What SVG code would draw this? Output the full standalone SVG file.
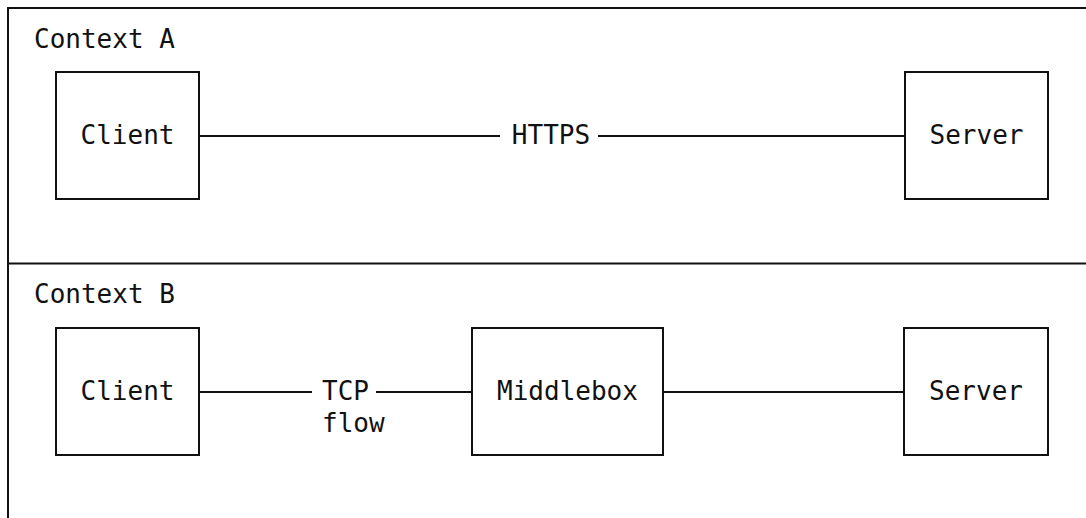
<svg xmlns="http://www.w3.org/2000/svg" width="1086" height="518" viewBox="0 0 1086 518">
<style>
text{font-family:"DejaVu Sans Mono","Liberation Mono",monospace;font-size:26px;fill:#111}
.box{fill:#fff;stroke:#111;stroke-width:2}
.ln{stroke:#111;stroke-width:2;fill:none}
.c{text-anchor:middle}
</style>
<rect width="1086" height="518" fill="#fff"/>
<g id="contextA">
<path class="ln" d="M8,518 V8 H1086"/>
<text x="34" y="48">Context A</text>
</g>
<g id="contextB">
<path class="ln" d="M8,263.5 H1086"/>
<text x="34" y="303">Context B</text>
</g>
<g id="connectors">
<path class="ln" d="M199,136 H500 M598,136 H905"/>
<text class="c" x="551" y="144">HTTPS</text>
<path class="ln" d="M199,392 H312 M376,392 H472 M663,392 H904"/>
<text x="322" y="400">TCP</text>
<text x="322" y="432">flow</text>
</g>
<g id="clientA">
<rect class="box" x="56" y="72" width="143" height="127"/>
<text class="c" x="127.5" y="144">Client</text>
</g>
<g id="serverA">
<rect class="box" x="905" y="72" width="143" height="127"/>
<text class="c" x="976.5" y="144">Server</text>
</g>
<g id="clientB">
<rect class="box" x="56" y="328" width="143" height="127"/>
<text class="c" x="127.5" y="400">Client</text>
</g>
<g id="middlebox">
<rect class="box" x="472" y="328" width="191" height="127"/>
<text class="c" x="567.5" y="400">Middlebox</text>
</g>
<g id="serverB">
<rect class="box" x="904" y="328" width="144" height="127"/>
<text class="c" x="976" y="400">Server</text>
</g>
</svg>
